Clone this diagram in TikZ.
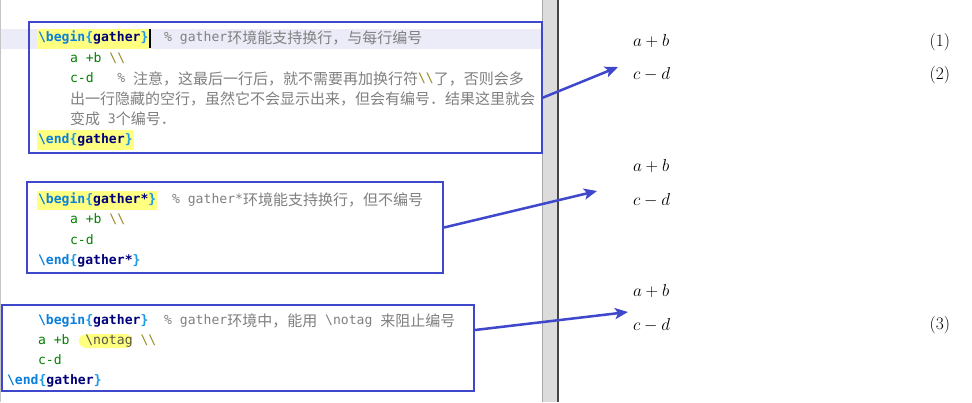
\documentclass[tikz,border=0pt]{standalone}
\usepackage{fontspec}
\setmonofont{DejaVu Sans Mono}
\newfontfamily\cjkfont{Noto Sans CJK SC}
\usetikzlibrary{arrows.meta}
\definecolor{boxblue}{HTML}{3F48CC}
\definecolor{kwblue}{HTML}{0A7FDC}
\definecolor{brblue}{HTML}{1A9BEA}
\definecolor{envnavy}{HTML}{00007A}
\definecolor{codegreen}{HTML}{008000}
\definecolor{dbscol}{HTML}{9A8A20}
\definecolor{cmtgray}{HTML}{808080}
\definecolor{notagcol}{HTML}{555540}
\definecolor{hlyellow}{HTML}{FFFF80}
\definecolor{bandlav}{HTML}{ECECF9}
\definecolor{gutterfill}{HTML}{DCDCDC}
\definecolor{gutterlight}{HTML}{A8A8A8}
\definecolor{gutterdark}{HTML}{454545}
\definecolor{edgegray}{HTML}{C4C4C4}
\newcommand\cj[1]{\raisebox{-1.8pt}{\fontsize{15}{15}\cjkfont #1}}
\newcommand\ms{\phantom{x}}
\newcommand\kwB[1]{\textcolor{kwblue}{\bfseries\textbackslash #1}}
\newcommand\brc[1]{\textcolor{brblue}{\bfseries #1}}
\newcommand\envn[1]{\textcolor{envnavy}{\bfseries #1}}
\newcommand\grn[1]{\textcolor{codegreen}{#1}}
\newcommand\dbs{\textcolor{dbscol}{\textbackslash\textbackslash}}
\newcommand\cmt[1]{\textcolor{cmtgray}{#1}}
\tikzset{
  code/.style={inner sep=0pt, outer sep=0pt, anchor=base west, font=\ttfamily\fontsize{13.1}{15}\selectfont},
  mathtxt/.style={inner sep=0pt, outer sep=0pt, font=\fontsize{17.5}{20}\selectfont},
  codebox/.style={draw=boxblue, line width=2pt, inner sep=0pt, outer sep=0pt},
  arr/.style={draw=boxblue, line width=2.5pt, -{Stealth[length=13pt,width=11pt,inset=3pt]}}
}
\begin{document}
\begin{tikzpicture}[x=1pt,y=-1pt]
\useasboundingbox (0,0) rectangle (972,402);
\fill[white] (0,0) rectangle (972,402);
% left edge and gutter
\draw[edgegray, line width=1pt] (0.5,0) -- (0.5,402);
\fill[gutterfill] (541.5,0) rectangle (558,402);
\draw[gutterlight, line width=1pt] (542,0) -- (542,402);
\draw[gutterdark, line width=1.5pt] (558,0) -- (558,402);
% current line band and highlights
\fill[bandlav] (1,29) rectangle (541,49);
\fill[hlyellow] (37,29) rectangle (149,49);
\fill[hlyellow] (37,130) rectangle (134,149.5);
\fill[hlyellow] (37,191) rectangle (157,210);
\fill[hlyellow, rounded corners=5pt] (82,334) -- (131,334) -- (133,341) -- (131,348) -- (82,348) -- (77,341) -- cycle;
\fill[black] (149,29) rectangle (150.6,48);
% boxes
\node[codebox, minimum width=513pt, minimum height=131pt] (box1) at (285.5,87.5) {};
\node[codebox, minimum width=416pt, minimum height=91pt] (box2) at (235,227.5) {};
\node[codebox, minimum width=472pt, minimum height=86pt] (box3) at (238,348) {};
% box 1 text
\node[code] (b1l1) at (38,41.8) {\kwB{begin}\brc{\{}\envn{gather}\brc{\}}\ms\ms\cmt{\%\ms gather\cj{环境能支持换行，与每行编号}}};
\node[code] (b1l2) at (70,62.1) {\grn{a\ms+b}\ms\dbs};
\node[code] (b1l3) at (70,82.4) {\grn{c-d}\ms\ms\ms\cmt{\%\ms\cj{注意，这最后一行后，就不需要再加换行符}}\dbs\cmt{\cj{了，否则会多}}};
\node[code] (b1l4) at (70,102.7) {\cmt{\cj{出一行隐藏的空行，虽然它不会显示出来，但会有编号．结果这里就会}}};
\node[code] (b1l5) at (70,123) {\cmt{\cj{变成}\ms3\cj{个编号．}}};
\node[code] (b1l6) at (38,143.3) {\kwB{end}\brc{\{}\envn{gather}\brc{\}}};
% box 2 text
\node[code] (b2l1) at (38,203.8) {\kwB{begin}\brc{\{}\envn{gather*}\brc{\}}\ms\ms\cmt{\%\ms gather*\cj{环境能支持换行，但不编号}}};
\node[code] (b2l2) at (70,223.8) {\grn{a\ms+b}\ms\dbs};
\node[code] (b2l3) at (70,244.5) {\grn{c-d}};
\node[code] (b2l4) at (38,264.8) {\kwB{end}\brc{\{}\envn{gather*}\brc{\}}};
% box 3 text
\node[code] (b3l1) at (38,324.8) {\kwB{begin}\brc{\{}\envn{gather}\brc{\}}\ms\ms\cmt{\%\ms gather\cj{环境中，能用}\ms\textbackslash notag\ms\cj{来阻止编号}}};
\node[code] (b3l2) at (38,344.8) {\grn{a\ms+b}\ms\ms\textcolor{notagcol}{\textbackslash notag}\ms\dbs};
\node[code] (b3l3) at (38,364.8) {\grn{c-d}};
\node[code] (b3l4) at (7,384.8) {\kwB{end}\brc{\{}\envn{gather}\brc{\}}};
% rendered output
\node[mathtxt, anchor=base west] (m1a) at (633,46.5) {$a+b$};
\node[mathtxt, anchor=base west] (m1b) at (633,79.5) {$c-d$};
\node[mathtxt, anchor=base east] (n1) at (950,46) {(1)};
\node[mathtxt, anchor=base east] (n2) at (950,79.5) {(2)};
\node[mathtxt, anchor=base west] (m2a) at (633,171.5) {$a+b$};
\node[mathtxt, anchor=base west] (m2b) at (633,205) {$c-d$};
\node[mathtxt, anchor=base west] (m3a) at (633,296.5) {$a+b$};
\node[mathtxt, anchor=base west] (m3b) at (633,330) {$c-d$};
\node[mathtxt, anchor=base east] (n3) at (950,329.5) {(3)};
% arrows
\coordinate (t1) at (618,67);
\coordinate (t2) at (597,191);
\coordinate (t3) at (628,312);
\draw[arr] ([yshift=-10.5pt]box1.east) -- (t1);
\draw[arr] ([xshift=1pt]box2.east) -- (t2);
\draw[arr] ([xshift=1pt,yshift=18pt]box3.east) -- (t3);
\end{tikzpicture}
\end{document}
